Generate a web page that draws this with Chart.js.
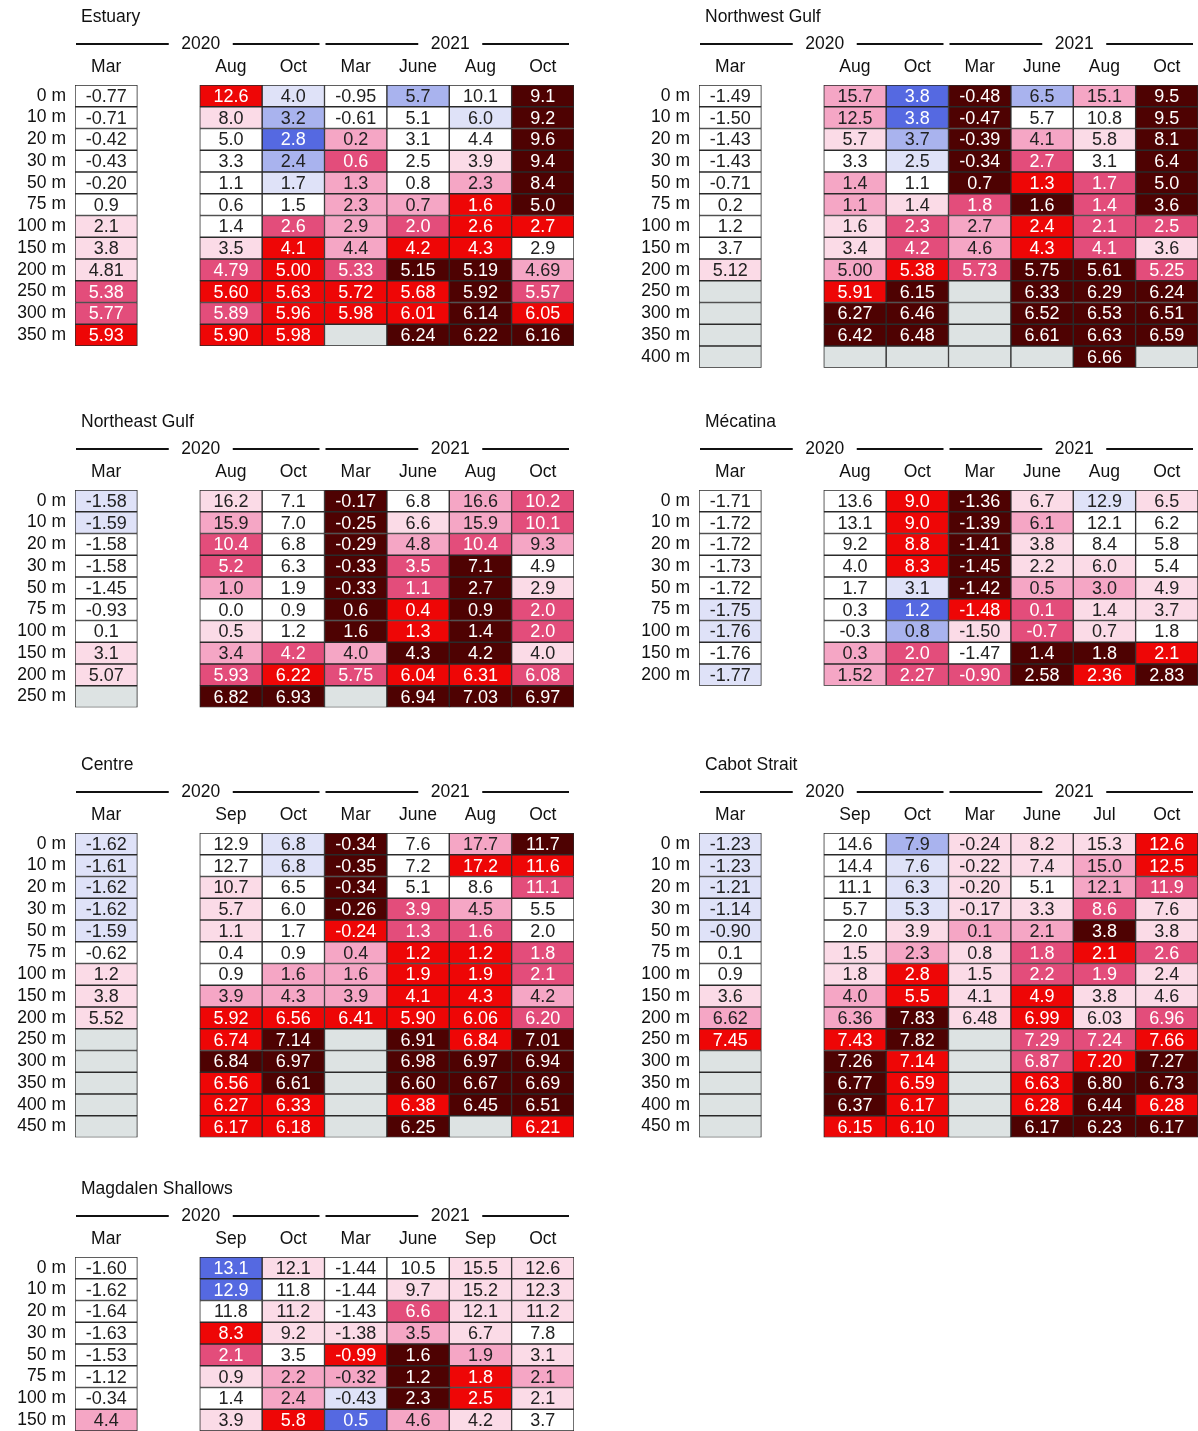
<!DOCTYPE html>
<html>
<head>
<meta charset="utf-8">
<script src="https://cdn.jsdelivr.net/npm/chart.js@4.4.0/dist/chart.umd.min.js"></script>
<style>
  html, body { margin: 0; padding: 0; background: #fff; overflow: hidden; width: 1198px; height: 1431px; }
  .panel { position: absolute; }
</style>
</head>
<body>
<div class="panel" style="left:0;top:0"><canvas id="estuary"></canvas></div>
<div class="panel" style="left:624px;top:0"><canvas id="northwest"></canvas></div>
<div class="panel" style="left:0;top:405px"><canvas id="northeast"></canvas></div>
<div class="panel" style="left:624px;top:405px"><canvas id="mecatina"></canvas></div>
<div class="panel" style="left:0;top:748px"><canvas id="centre"></canvas></div>
<div class="panel" style="left:624px;top:748px"><canvas id="cabot"></canvas></div>
<div class="panel" style="left:0;top:1172px"><canvas id="magdalen"></canvas></div>
<script>
// depths shared by all regions (each panel uses the first n)
const depths = [0, 10, 20, 30, 50, 75, 100, 150, 200, 250, 300, 350, 400, 450]
const years = ['2020', '2021']

const monthsAug = ['Mar', 'Aug', 'Oct', 'Mar', 'June', 'Aug', 'Oct']
const monthsSep = ['Mar', 'Sep', 'Oct', 'Mar', 'June', 'Aug', 'Oct']
const monthsCabot = ['Mar', 'Sep', 'Oct', 'Mar', 'June', 'Jul', 'Oct']
const monthsMagdalen = ['Mar', 'Sep', 'Oct', 'Mar', 'June', 'Sep', 'Oct']

// values per survey column (top to bottom), null = no data
// classes: -3..-1 cold anomaly, 0 normal, 1..5 warm anomaly
const estuaryVals = [
  ['-0.77','-0.71','-0.42','-0.43','-0.20','0.9','2.1','3.8','4.81','5.38','5.77','5.93'],
  ['12.6','8.0','5.0','3.3','1.1','0.6','1.4','3.5','4.79','5.60','5.89','5.90'],
  ['4.0','3.2','2.8','2.4','1.7','1.5','2.6','4.1','5.00','5.63','5.96','5.98'],
  ['-0.95','-0.61','0.2','0.6','1.3','2.3','2.9','4.4','5.33','5.72','5.98',null],
  ['5.7','5.1','3.1','2.5','0.8','0.7','2.0','4.2','5.15','5.68','6.01','6.24'],
  ['10.1','6.0','4.4','3.9','2.3','1.6','2.6','4.3','5.19','5.92','6.14','6.22'],
  ['9.1','9.2','9.6','9.4','8.4','5.0','2.7','2.9','4.69','5.57','6.05','6.16']
]
const estuaryCls = [
  [0,0,0,0,0,0,1,1,1,3,3,4],
  [4,1,0,0,0,0,0,1,3,4,3,4],
  [-1,-2,-3,-2,-1,0,3,4,4,4,4,4],
  [0,0,2,3,2,2,2,2,3,4,4,null],
  [-2,0,0,0,0,2,3,4,5,4,4,5],
  [0,-1,0,1,2,4,4,4,5,5,5,5],
  [5,5,5,5,5,5,4,0,2,3,4,5]
]

const northwestVals = [
  ['-1.49','-1.50','-1.43','-1.43','-0.71','0.2','1.2','3.7','5.12',null,null,null,null],
  ['15.7','12.5','5.7','3.3','1.4','1.1','1.6','3.4','5.00','5.91','6.27','6.42',null],
  ['3.8','3.8','3.7','2.5','1.1','1.4','2.3','4.2','5.38','6.15','6.46','6.48',null],
  ['-0.48','-0.47','-0.39','-0.34','0.7','1.8','2.7','4.6','5.73',null,null,null,null],
  ['6.5','5.7','4.1','2.7','1.3','1.6','2.4','4.3','5.75','6.33','6.52','6.61',null],
  ['15.1','10.8','5.8','3.1','1.7','1.4','2.1','4.1','5.61','6.29','6.53','6.63','6.66'],
  ['9.5','9.5','8.1','6.4','5.0','3.6','2.5','3.6','5.25','6.24','6.51','6.59',null]
]
const northwestCls = [
  [0,0,0,0,0,0,0,0,1,null,null,null,null],
  [2,2,1,0,2,2,1,1,2,4,5,5,null],
  [-3,-3,-2,-1,0,1,3,3,4,5,5,5,null],
  [5,5,5,5,5,3,2,2,3,null,null,null,null],
  [-2,0,2,3,4,5,4,4,5,5,5,5,null],
  [2,0,1,0,3,3,3,3,5,5,5,5,5],
  [5,5,5,5,5,5,3,1,3,5,5,5,null]
]

const northeastVals = [
  ['-1.58','-1.59','-1.58','-1.58','-1.45','-0.93','0.1','3.1','5.07',null],
  ['16.2','15.9','10.4','5.2','1.0','0.0','0.5','3.4','5.93','6.82'],
  ['7.1','7.0','6.8','6.3','1.9','0.9','1.2','4.2','6.22','6.93'],
  ['-0.17','-0.25','-0.29','-0.33','-0.33','0.6','1.6','4.0','5.75',null],
  ['6.8','6.6','4.8','3.5','1.1','0.4','1.3','4.3','6.04','6.94'],
  ['16.6','15.9','10.4','7.1','2.7','0.9','1.4','4.2','6.31','7.03'],
  ['10.2','10.1','9.3','4.9','2.9','2.0','2.0','4.0','6.08','6.97']
]
const northeastCls = [
  [-1,-1,0,0,0,0,0,1,1,null],
  [1,2,3,3,2,0,1,2,3,5],
  [0,0,0,0,0,0,0,3,4,5],
  [5,5,5,5,5,5,5,2,3,null],
  [0,1,2,3,3,4,4,5,4,5],
  [2,2,3,5,5,5,5,5,4,5],
  [3,3,2,0,1,3,3,1,3,5]
]

const mecatinaVals = [
  ['-1.71','-1.72','-1.72','-1.73','-1.72','-1.75','-1.76','-1.76','-1.77'],
  ['13.6','13.1','9.2','4.0','1.7','0.3','-0.3','0.3','1.52'],
  ['9.0','9.0','8.8','8.3','3.1','1.2','0.8','2.0','2.27'],
  ['-1.36','-1.39','-1.41','-1.45','-1.42','-1.48','-1.50','-1.47','-0.90'],
  ['6.7','6.1','3.8','2.2','0.5','0.1','-0.7','1.4','2.58'],
  ['12.9','12.1','8.4','6.0','3.0','1.4','0.7','1.8','2.36'],
  ['6.5','6.2','5.8','5.4','4.9','3.7','1.8','2.1','2.83']
]
const mecatinaCls = [
  [0,0,0,0,0,-1,-1,0,-1],
  [0,0,0,0,0,0,0,2,2],
  [4,4,4,4,-1,-3,-2,3,3],
  [5,5,5,5,5,4,1,0,3],
  [1,2,1,1,2,3,3,5,5],
  [-1,0,0,1,2,1,1,5,4],
  [1,0,0,0,1,1,0,4,5]
]

const centreVals = [
  ['-1.62','-1.61','-1.62','-1.62','-1.59','-0.62','1.2','3.8','5.52',null,null,null,null,null],
  ['12.9','12.7','10.7','5.7','1.1','0.4','0.9','3.9','5.92','6.74','6.84','6.56','6.27','6.17'],
  ['6.8','6.8','6.5','6.0','1.7','0.9','1.6','4.3','6.56','7.14','6.97','6.61','6.33','6.18'],
  ['-0.34','-0.35','-0.34','-0.26','-0.24','0.4','1.6','3.9','6.41',null,null,null,null,null],
  ['7.6','7.2','5.1','3.9','1.3','1.2','1.9','4.1','5.90','6.91','6.98','6.60','6.38','6.25'],
  ['17.7','17.2','8.6','4.5','1.6','1.2','1.9','4.3','6.06','6.84','6.97','6.67','6.45',null],
  ['11.7','11.6','11.1','5.5','2.0','1.8','2.1','4.2','6.20','7.01','6.94','6.69','6.51','6.21']
]
const centreCls = [
  [-1,-1,-1,-1,-1,0,1,1,1,null,null,null,null,null],
  [0,0,1,1,1,0,0,2,4,4,5,4,4,4],
  [-1,-1,0,0,0,0,2,2,4,5,5,5,4,4],
  [5,5,5,5,4,2,2,2,4,null,null,null,null,null],
  [0,0,0,3,3,4,4,4,4,5,5,5,4,5],
  [2,4,0,2,3,4,4,4,4,4,5,5,5,null],
  [5,4,3,0,0,3,3,2,3,5,5,5,5,4]
]

const cabotVals = [
  ['-1.23','-1.23','-1.21','-1.14','-0.90','0.1','0.9','3.6','6.62','7.45',null,null,null,null],
  ['14.6','14.4','11.1','5.7','2.0','1.5','1.8','4.0','6.36','7.43','7.26','6.77','6.37','6.15'],
  ['7.9','7.6','6.3','5.3','3.9','2.3','2.8','5.5','7.83','7.82','7.14','6.59','6.17','6.10'],
  ['-0.24','-0.22','-0.20','-0.17','0.1','0.8','1.5','4.1','6.48',null,null,null,null,null],
  ['8.2','7.4','5.1','3.3','2.1','1.8','2.2','4.9','6.99','7.29','6.87','6.63','6.28','6.17'],
  ['15.3','15.0','12.1','8.6','3.8','2.1','1.9','3.8','6.03','7.24','7.20','6.80','6.44','6.23'],
  ['12.6','12.5','11.9','7.6','3.8','2.6','2.4','4.6','6.96','7.66','7.27','6.73','6.28','6.17']
]
const cabotCls = [
  [-1,-1,-1,-1,-1,0,0,1,2,4,null,null,null,null],
  [0,0,0,0,0,1,1,2,2,4,5,5,5,4],
  [-2,-1,-1,-1,1,2,4,4,5,5,4,4,4,4],
  [1,1,1,1,2,1,1,1,1,null,null,null,null,null],
  [1,1,0,1,2,3,3,4,4,3,3,4,4,5],
  [1,2,2,3,5,4,3,1,1,3,4,5,5,5],
  [4,4,3,1,1,3,1,1,3,4,5,5,4,5]
]

const magdalenVals = [
  ['-1.60','-1.62','-1.64','-1.63','-1.53','-1.12','-0.34','4.4'],
  ['13.1','12.9','11.8','8.3','2.1','0.9','1.4','3.9'],
  ['12.1','11.8','11.2','9.2','3.5','2.2','2.4','5.8'],
  ['-1.44','-1.44','-1.43','-1.38','-0.99','-0.32','-0.43','0.5'],
  ['10.5','9.7','6.6','3.5','1.6','1.2','2.3','4.6'],
  ['15.5','15.2','12.1','6.7','1.9','1.8','2.5','4.2'],
  ['12.6','12.3','11.2','7.8','3.1','2.1','2.1','3.7']
]
const magdalenCls = [
  [0,0,0,0,0,0,0,2],
  [-3,-3,0,4,3,1,0,1],
  [1,0,1,1,0,2,2,4],
  [0,0,0,1,4,2,-1,-3],
  [0,1,3,2,5,5,5,2],
  [1,1,1,1,2,4,4,1],
  [1,1,1,0,1,2,1,0]
]

const palette = {
  '-3': '#5569e1', '-2': '#a9b3ee', '-1': '#dfe2f8', '0': '#ffffff',
  '1': '#fbdbe7', '2': '#f5a6c5', '3': '#e34d7b', '4': '#ee0606', '5': '#4e0202'
}
const missing = '#dde3e3'
const FONT = "'Liberation Sans', Arial, sans-serif"
const ROW = 21.75
const TOP = 85

const cellText = {
  id: 'cellText',
  afterDatasetsDraw (chart) {
    const { ctx } = chart
    const p = chart.options.plugins.cellText
    ctx.save()
    ctx.font = `18px ${FONT}`
    ctx.textAlign = 'center'
    ctx.textBaseline = 'middle'
    chart.data.datasets.forEach((ds, c) => {
      chart.getDatasetMeta(c).data.forEach((bar, r) => {
        const v = p.vals[c][r]
        if (v == null) return
        const k = p.cls[c][r]
        ctx.fillStyle = (k <= -3 || k >= 3) ? '#fff' : '#222'
        ctx.fillText(v, (bar.x + bar.base) / 2, bar.y + 1)
      })
    })
    ctx.restore()
  }
}

const header = {
  id: 'header',
  afterDraw (chart) {
    const { ctx } = chart
    const x = chart.scales.x
    const p = chart.options.plugins.header
    ctx.save()
    ctx.fillStyle = '#111'
    ctx.font = `17.5px ${FONT}`
    ctx.textBaseline = 'middle'
    ctx.textAlign = 'left'
    ctx.fillText(p.title, chart.chartArea.left + 6, 17)
    ctx.textAlign = 'center'
    ctx.strokeStyle = '#111'
    ctx.lineWidth = 2
    years.forEach((yr, i) => {
      const a = x.getPixelForValue(i * 4) + 1
      const b = x.getPixelForValue(i * 4 + 4) - 5
      const m = (a + b) / 2 + 2
      ctx.beginPath()
      ctx.moveTo(a, 44); ctx.lineTo(m - 31, 44)
      ctx.moveTo(m + 33, 44); ctx.lineTo(b, 44)
      ctx.stroke()
      ctx.fillText(yr, m + 1, 44)
    })
    ctx.restore()
  }
}

function noPadding (ax) {
  ax.paddingTop = 0
  ax.paddingBottom = 0
  ax.paddingLeft = 0
  ax.paddingRight = 0
}

function makePanel (id, title, months, vals, cls) {
  const n = vals[0].length
  const labels = depths.slice(0, n).map(d => `${d} m`)
  const height = Math.ceil(TOP + n * ROW) + 4
  const canvas = document.getElementById(id)
  canvas.width = 600
  canvas.height = height

  const datasets = vals.map((col, c) => {
    const x0 = c === 0 ? 0 : c + 1
    return {
      label: months[c],
      data: labels.map(() => [x0, x0 + 1]),
      backgroundColor: cls[c].map(k => k == null ? missing : palette[k]),
      borderColor: '#2a2a2a',
      borderWidth: 1,
      borderSkipped: false,
      barPercentage: 1,
      categoryPercentage: 1,
      grouped: false
    }
  })

  return new Chart(canvas, {
    type: 'bar',
    data: { labels, datasets },
    options: {
      indexAxis: 'y',
      responsive: false,
      animation: false,
      events: [],
      layout: { padding: { top: 0, right: 26, bottom: height - TOP - n * ROW, left: 0 } },
      plugins: {
        legend: { display: false },
        tooltip: { enabled: false },
        cellText: { vals, cls },
        header: { title }
      },
      scales: {
        x: {
          type: 'linear',
          position: 'top',
          min: 0,
          max: 8,
          grid: { display: false, drawTicks: false },
          border: { display: false },
          afterBuildTicks: ax => { ax.ticks = [0.5, 2.5, 3.5, 4.5, 5.5, 6.5, 7.5].map(v => ({ value: v })) },
          afterFit: ax => { ax.height = TOP; noPadding(ax) },
          ticks: {
            autoSkip: false,
            maxRotation: 0,
            padding: 7,
            color: '#111',
            font: { family: FONT, size: 17.5 },
            callback: (v, i) => months[i]
          }
        },
        y: {
          type: 'category',
          offset: true,
          grid: { display: false, drawTicks: false },
          border: { display: false },
          afterFit: ax => { ax.width = 75; noPadding(ax) },
          ticks: {
            autoSkip: false,
            padding: 9,
            color: '#111',
            font: { family: FONT, size: 17.5 }
          }
        }
      }
    },
    plugins: [cellText, header]
  })
}

makePanel('estuary', 'Estuary', monthsAug, estuaryVals, estuaryCls)
makePanel('northwest', 'Northwest Gulf', monthsAug, northwestVals, northwestCls)
makePanel('northeast', 'Northeast Gulf', monthsAug, northeastVals, northeastCls)
makePanel('mecatina', 'Mécatina', monthsAug, mecatinaVals, mecatinaCls)
makePanel('centre', 'Centre', monthsSep, centreVals, centreCls)
makePanel('cabot', 'Cabot Strait', monthsCabot, cabotVals, cabotCls)
makePanel('magdalen', 'Magdalen Shallows', monthsMagdalen, magdalenVals, magdalenCls)
</script>
</body>
</html>
